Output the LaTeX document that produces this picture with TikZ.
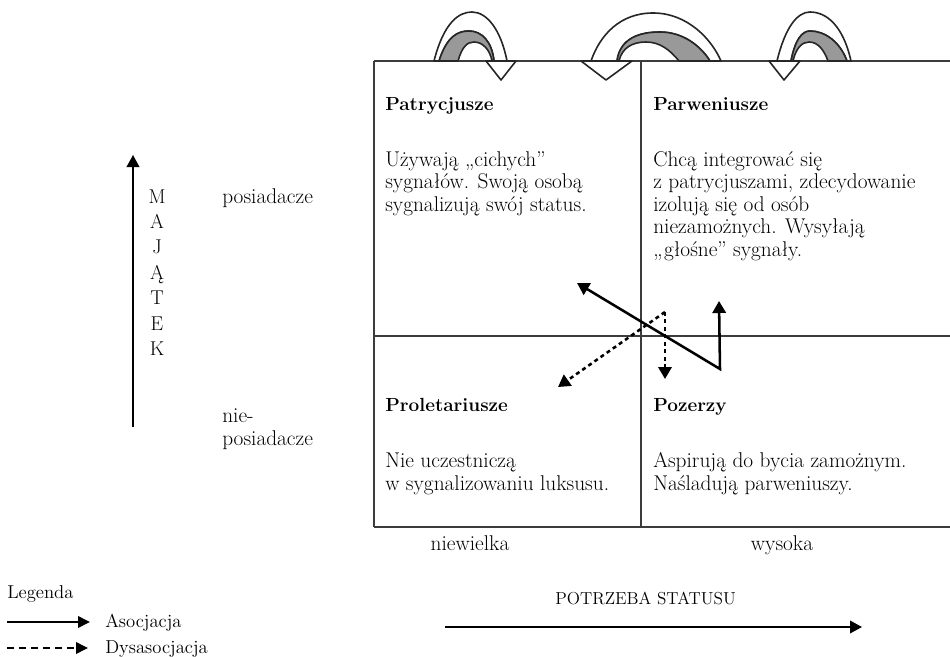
\documentclass[tikz,border=0pt]{standalone}
\usepackage{fontspec}
\usetikzlibrary{arrows.meta}
\definecolor{archgrey}{HTML}{999999}
\definecolor{gridcol}{HTML}{3C3C3C}
\tikzset{
  txt/.style={anchor=base west, inner sep=0pt, font=\fontsize{16pt}{19pt}\selectfont},
  hd/.style={anchor=base west, inner sep=0pt, font=\fontsize{14.25pt}{17pt}\selectfont\bfseries},
  ctxt/.style={anchor=base, inner sep=0pt, font=\fontsize{16pt}{19pt}\selectfont},
  captxt/.style={anchor=base, inner sep=0pt, font=\fontsize{13pt}{16pt}\selectfont},
  lettxt/.style={anchor=base, inner sep=0pt, font=\fontsize{15pt}{18pt}\selectfont},
  legtxt/.style={anchor=base west, inner sep=0pt, font=\fontsize{14pt}{17pt}\selectfont},
  gridline/.style={draw=gridcol, line width=0.95pt},
  axisarr/.style={line width=1.1pt, -{Triangle[width=9.5pt,length=9pt]}},
  assoc/.style={line width=1.9pt, line join=miter, {Triangle[width=10pt,length=9pt]}-{Triangle[width=10pt,length=9pt]}},
  dissoc/.style={line width=1.9pt, dash pattern=on 3pt off 2.6pt, -{Triangle[width=10pt,length=9pt]}},
  legassoc/.style={line width=1.9pt, -{Triangle[width=8.5pt,length=9pt]}},
  legdissoc/.style={line width=1.9pt, dash pattern=on 5pt off 4pt, -{Triangle[width=8.5pt,length=9pt]}},
  band/.style={fill=white, draw=black!85, line width=1.2pt, line join=round},
  shade/.style={fill=archgrey, draw=black!85, line width=1.2pt, line join=round},
}
\begin{document}
\begin{tikzpicture}[x=0.75pt,y=-0.75pt]
\useasboundingbox (0,0) rectangle (950,657);

% grid corners
\coordinate (tl) at (374,61);
\coordinate (tm) at (641,61);
\coordinate (tr) at (950,61);
\coordinate (ml) at (374,336);
\coordinate (mr) at (950,336);
\coordinate (bl) at (374,527);
\coordinate (bm) at (641,527);
\coordinate (br) at (950,527);
\draw[gridline] (tl) -- (tr);
\draw[gridline] (ml) -- (mr);
\draw[gridline] (bl) -- (br);
\draw[gridline] (tl) -- (bl);
\draw[gridline] (tm) -- (bm);

% curved arrow A (left)
\draw[band] (434,61) .. controls (444,22) and (459,12) .. (472,12) .. controls (487,12) and (501,30) .. (507,61) -- (494,61) .. controls (492,42) and (482,31) .. (469,31) .. controls (458,31) and (447,36) .. (439,61) -- cycle;
\draw[shade] (439,61) .. controls (447,36) and (458,31) .. (469,31) .. controls (482,31) and (492,42) .. (494,61) -- (492,61) .. controls (490,50) and (483,42) .. (474,42) .. controls (467,42) and (462,47) .. (458,61) -- cycle;
\draw[band] (486,61) -- (516,61) -- (501,80) -- cycle;

% curved arrow B (middle)
\draw[band] (591,61) .. controls (600,35) and (620,13) .. (653,13) .. controls (688,13) and (712,40) .. (721,61) -- (710,61) .. controls (700,45) and (682,32) .. (660,32) .. controls (640,32) and (620,38) .. (617,61) -- cycle;
\draw[shade] (617,61) .. controls (620,38) and (640,32) .. (660,32) .. controls (682,32) and (700,45) .. (710,61) -- (679,61) .. controls (670,50) and (660,42) .. (646,42) .. controls (632,42) and (622,48) .. (619,61) -- cycle;
\draw[band] (581,61) -- (632,61) -- (606,80) -- cycle;

% curved arrow C (right)
\draw[band] (777,61) .. controls (785,28) and (797,12) .. (810,12) .. controls (826,12) and (843,25) .. (851,61) -- (847,61) .. controls (840,42) and (825,31) .. (810,31) .. controls (802,31) and (795,40) .. (791,61) -- cycle;
\draw[shade] (791,61) .. controls (795,40) and (802,31) .. (810,31) .. controls (825,31) and (840,42) .. (847,61) -- (828,61) .. controls (824,50) and (818,42) .. (809,42) .. controls (802,42) and (796,48) .. (793,61) -- cycle;
\draw[band] (769,61) -- (800,61) -- (784,80) -- cycle;

% cell texts
\node[hd]  (pat)  at (385,110) {Patrycjusze};
\node[txt] (pat1) at (385,166) {Używają „cichych”};
\node[txt] (pat2) at (385,188.5) {sygnałów. Swoją osobą};
\node[txt] (pat3) at (385,211) {sygnalizują swój status.};

\node[hd]  (par)  at (653,110) {Parweniusze};
\node[txt] (par1) at (653,166) {Chcą integrować się};
\node[txt] (par2) at (653,188.5) {z patrycjuszami, zdecydowanie};
\node[txt] (par3) at (653,211) {izolują się od osób};
\node[txt] (par4) at (653,233.5) {niezamożnych. Wysyłają};
\node[txt] (par5) at (653,256) {„głośne” sygnały.};

\node[hd]  (pro)  at (385,411) {Proletariusze};
\node[txt] (pro1) at (385,467) {Nie uczestniczą};
\node[txt] (pro2) at (385,490) {w sygnalizowaniu luksusu.};

\node[hd]  (poz)  at (653,411) {Pozerzy};
\node[txt] (poz1) at (653,467) {Aspirują do bycia zamożnym.};
\node[txt] (poz2) at (653,490) {Naśladują parweniuszy.};

% central arrows
\coordinate (zv) at (720,369);
\coordinate (zt1) at (577,283);
\coordinate (zt2) at (719,301);
\draw[assoc] (zt1) -- (zv) -- (zt2);
\coordinate (dapex) at (665,312);
\coordinate (dt1) at (665,379);
\coordinate (dt2) at (558,387);
\draw[dissoc] (dapex) -- (dt1);
\draw[dissoc] (dapex) -- (dt2);

% vertical axis
\coordinate (vbot) at (133,427);
\coordinate (vtop) at (133,155);
\draw[axisarr] (vbot) -- (vtop);
\foreach \l [count=\i from 0] in {M,A,J,Ą,T,E,K}{
  \node[lettxt] (maj\i) at (157,203+25.4*\i) {\l};
}
\node[txt] (pos)  at (222,203) {posiadacze};
\node[txt] (nie)  at (222,422) {nie-};
\node[txt] (npos) at (222,445) {posiadacze};

% horizontal axis
\node[ctxt] (low)  at (470,550) {niewielka};
\node[ctxt] (high) at (782,550) {wysoka};
\node[captxt] (need) at (645.5,604) {POTRZEBA STATUSU};
\coordinate (hl) at (445,627);
\coordinate (hr) at (862,627);
\draw[axisarr] (hl) -- (hr);

% legend
\node[legtxt] (leg) at (7,598) {Legenda};
\coordinate (la1) at (7,622);
\coordinate (la2) at (90,622);
\draw[legassoc] (la1) -- (la2);
\node[legtxt] (asoc) at (105,627) {Asocjacja};
\coordinate (ld1) at (7,648);
\coordinate (ld2) at (88,648);
\draw[legdissoc] (ld1) -- (ld2);
\node[legtxt] (dys) at (105,653) {Dysasocjacja};
\end{tikzpicture}
\end{document}
